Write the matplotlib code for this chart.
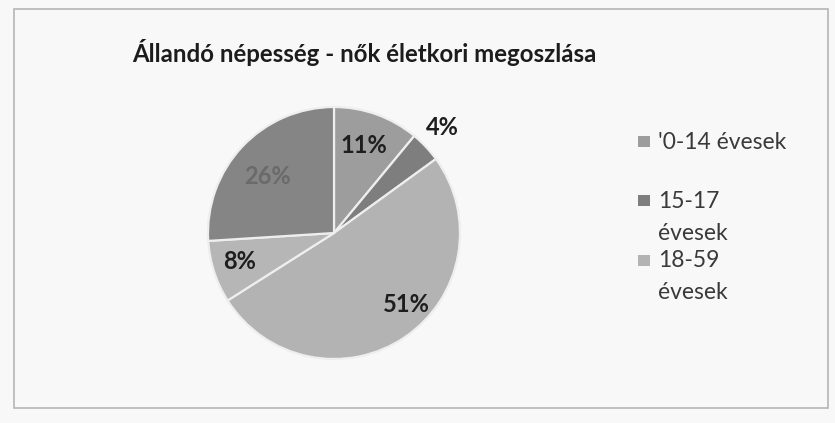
import numpy as np
import matplotlib
matplotlib.use("Agg")
import matplotlib.pyplot as plt
from matplotlib.patches import Rectangle

# ---- data ----
title = "Állandó népesség - nők életkori megoszlása"
categories = ["'0-14 évesek", "15-17 évesek", "18-59 évesek", "60-64 évesek", "65- évesek"]
values = [11, 4, 51, 8, 26]
legend_labels = ["'0-14 évesek", "15-17\névesek", "18-59\névesek"]   # legend is truncated in the original

# ---- style ----
colors = ["#9d9d9d", "#7e7e7e", "#b3b3b3", "#b6b6b6", "#858585"]
label_colors = ["#1e1e1e", "#1e1e1e", "#1e1e1e", "#1e1e1e", "#6a6a6a"]
label_radius = [0.73, 1.20, 0.81, 0.78, 0.69]
label_angle_shift = [1, 1, 11, -1, 3]
FONT = "Lato"
W, H = 835, 423
bg = "#f8f8f8"

fig = plt.figure(figsize=(W / 100, H / 100), dpi=100, facecolor=bg)

def fx(px):
    return px / W

def fy(py):
    return 1 - py / H

# chart border
fig.add_artist(Rectangle((fx(14), fy(408)), fx(828) - fx(14), fy(9) - fy(408),
                         transform=fig.transFigure, fill=False, edgecolor="#b5b5b5", lw=1.2))

# pie axes
cx, cy, r = 334, 233, 126
ax = fig.add_axes([fx(cx - r), fy(cy + r), 2 * r / W, 2 * r / H])
ax.set_facecolor(bg)
wedges, _ = ax.pie(values, colors=colors, startangle=90, counterclock=False,
                   radius=1.0, wedgeprops=dict(edgecolor="#eeeeee", linewidth=1.6))
ax.set_xlim(-1, 1)
ax.set_ylim(-1, 1)
ax.set_aspect("equal")
ax.axis("off")

for w, v, rr, sh, lc in zip(wedges, values, label_radius, label_angle_shift, label_colors):
    ang = np.deg2rad((w.theta1 + w.theta2) / 2 + sh)
    ax.text(rr * np.cos(ang), rr * np.sin(ang), f"{v}%", ha="center", va="center",
            fontsize=17, fontweight="bold", color=lc, family=FONT)

# title
fig.text(fx(364), fy(62), title, ha="center", va="baseline", fontsize=17.3,
         fontweight="bold", color="#1c1c1c", family=FONT)

# legend (manual, matching original layout)
marker_y = [142, 201, 260]
text_baseline = [149, 208, 267]
line_step = 32
for lab, col, my, by in zip(legend_labels, colors, marker_y, text_baseline):
    sw, sh_ = 12, 11
    fig.add_artist(Rectangle((fx(638), fy(my + sh_ / 2)), sw / W, sh_ / H,
                             transform=fig.transFigure, facecolor=col, edgecolor="none"))
    for k, line in enumerate(lab.split("\n")):
        fig.text(fx(658), fy(by + k * line_step), line, ha="left", va="baseline",
                 fontsize=16.5, color="#3a3a3a", family=FONT)

fig.savefig("out.png", dpi=100, facecolor=bg)
